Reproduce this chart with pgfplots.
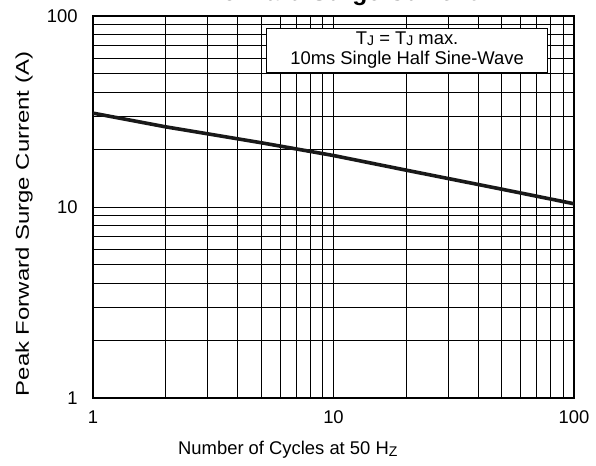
\documentclass[border=0pt]{standalone}
\usepackage{fontspec}
\setmainfont{Liberation Sans}
\usepackage{graphicx}
\usepackage{pgfplots}
\pgfplotsset{compat=1.18}

\begin{document}
\begin{tikzpicture}
\begin{loglogaxis}[
  name=a,
  at={(0,0)}, anchor=south west,
  scale only axis,
  width=360.75pt, height=286.5pt,
  xmin=1, xmax=100, ymin=1, ymax=100,
  axis line style={line width=2pt},
  grid=both,
  major grid style={black, line width=0.6pt},
  minor grid style={black, line width=0.5pt},
  major tick length=0pt, minor tick length=0pt,
  xtick={1,10,100}, xticklabels={1,10,100},
  ytick={1,10,100}, yticklabels={1,10,100},
  /pgf/number format/assume math mode=true,
  tick label style={font=\fontsize{13.8}{16}\selectfont},
  xticklabel style={yshift=-6pt},
  yticklabel style={xshift=-8pt},
  label style={font=\fontsize{13.8}{16}\selectfont},
  xlabel={Number of Cycles at 50 H\raisebox{-0.12ex}{\fontsize{10.5}{12}\selectfont Z}},
  xlabel style={at={(axis description cs:0.405,-0.1492)}, anchor=base},
  ylabel={\scalebox{1.3}[1]{Peak Forward Surge Current (A)}},
  ylabel style={at={(axis description cs:-0.1331,0.4555)}, anchor=base},
]
\addplot[black!90, line width=2.7pt] coordinates {
  (1,31) (2,26.3) (5,21.7) (10,18.6) (20,15.6) (50,12.4) (100,10.4)
};
\node[draw=black, line width=0.6pt, fill=white, anchor=north east,
  minimum width=210.75pt, minimum height=33pt, align=center,
  font=\fontsize{13.8}{15}\selectfont, inner sep=2pt]
  at (axis description cs:0.946,0.9686)
  {T\raisebox{-0.12ex}{\fontsize{10.5}{12}\selectfont J} = T\raisebox{-0.12ex}{\fontsize{10.5}{12}\selectfont J} max.\\10ms Single Half Sine-Wave};
\end{loglogaxis}
\node[anchor=base, font=\bfseries\fontsize{18.5}{20}\selectfont] at (186.75pt,297.75pt) {Forward Surge Current};
\pgfresetboundingbox
\useasboundingbox (-69.75pt,-51pt) rectangle (377.25pt,298.5pt);
\end{tikzpicture}
\end{document}
